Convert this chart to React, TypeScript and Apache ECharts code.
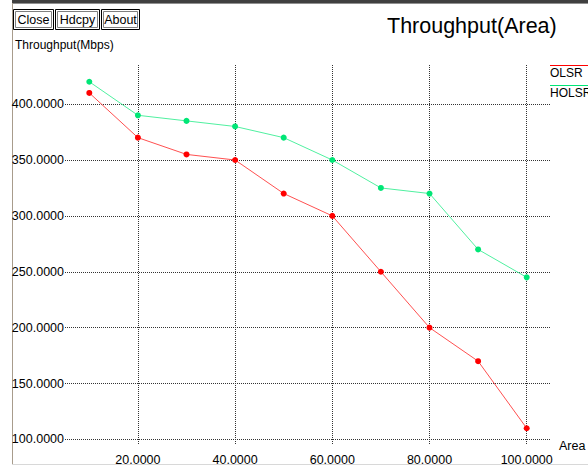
import React, { useEffect, useRef } from "react";
import * as echarts from "echarts";

const areas = [10, 20, 30, 40, 50, 60, 70, 80, 90, 100];
const olsr = [410, 370, 355, 350, 320, 300, 250, 200, 170, 110];
const holsr = [420, 390, 385, 380, 370, 350, 325, 320, 270, 245];
const xTicks = [20, 40, 60, 80, 100];
const yTicks = [100, 150, 200, 250, 300, 350, 400];
const seriesNames = ["OLSR", "HOLSR"];

const FONT = "'Liberation Sans', Arial, sans-serif";

function button(x: number, w: number, label: string) {
  return {
    type: "group",
    children: [
      { type: "rect", shape: { x: x + 0.5, y: 9.5, width: w, height: 20 }, style: { fill: "#fff", stroke: "#000", lineWidth: 1 } },
      { type: "rect", shape: { x: x + 2.5, y: 11.5, width: w - 4, height: 16 }, style: { fill: "#fff", stroke: "#808080", lineWidth: 1 } },
      {
        type: "text",
        x: x + w / 2 + 0.5,
        y: 19.5,
        style: { text: label, font: `12.5px ${FONT}`, fill: "#000", align: "center", verticalAlign: "middle" },
      },
    ],
  };
}

export default function App() {
  const ref = useRef<HTMLDivElement>(null);
  useEffect(() => {
    if (!ref.current) return;
    const chart = echarts.init(ref.current, null, { renderer: "svg" });
    const gridLine = { show: true, lineStyle: { color: "#333", type: [1, 1], width: 1 } };
    chart.setOption({
      animation: false,
      backgroundColor: "#fff",
      textStyle: { fontFamily: FONT },
      grid: { left: 65, right: 37, top: 65, bottom: 22, containLabel: false },
      xAxis: {
        type: "value",
        min: 5,
        max: 105,
        axisLine: { show: false },
        axisTick: { show: false, customValues: xTicks },
        axisLabel: {
          customValues: xTicks,
          formatter: (v: number) => v.toFixed(4),
          color: "#000",
          fontSize: 12.5,
          margin: 8,
          fontFamily: FONT,
        },
        splitLine: gridLine,
      },
      yAxis: {
        type: "value",
        min: 95,
        max: 435,
        axisLine: { show: false },
        axisTick: { show: false, customValues: yTicks },
        axisLabel: {
          customValues: yTicks,
          formatter: (v: number) => v.toFixed(4),
          color: "#000",
          fontSize: 12.5,
          margin: 1,
          fontFamily: FONT,
        },
        splitLine: gridLine,
      },
      series: [
        {
          name: seriesNames[0],
          type: "line",
          data: areas.map((a, i) => [a, olsr[i]]),
          symbol: "circle",
          symbolSize: 6,
          lineStyle: { color: "#ff5050", width: 1 },
          itemStyle: { color: "#ff0000" },
          z: 3,
        },
        {
          name: seriesNames[1],
          type: "line",
          data: areas.map((a, i) => [a, holsr[i]]),
          symbol: "circle",
          symbolSize: 6,
          lineStyle: { color: "#50f0a0", width: 1 },
          itemStyle: { color: "#00e676" },
          z: 4,
        },
      ],
      graphic: [
        { type: "rect", shape: { x: 12, y: 0, width: 576, height: 3 }, style: { fill: "#404040" } },
        { type: "rect", shape: { x: 12, y: 3, width: 576, height: 1 }, style: { fill: "#909090" } },
        { type: "line", shape: { x1: 12.5, y1: 3, x2: 12.5, y2: 464 }, style: { stroke: "#a89c8c", lineWidth: 1 } },
        { type: "line", shape: { x1: 12, y1: 464.5, x2: 588, y2: 464.5 }, style: { stroke: "#d8d8d8", lineWidth: 1 } },
        button(13, 40, "Close"),
        button(55, 44, "Hdcpy"),
        button(101, 38, "About"),
        {
          type: "text",
          x: 15,
          y: 45,
          style: { text: "Throughput(Mbps)", font: `12px ${FONT}`, fill: "#000", verticalAlign: "middle" },
        },
        {
          type: "text",
          x: 387,
          y: 26,
          style: { text: "Throughput(Area)", font: `21.5px ${FONT}`, fill: "#000", verticalAlign: "middle" },
        },
        { type: "line", shape: { x1: 550, y1: 65.5, x2: 588, y2: 65.5 }, style: { stroke: "#ff0000", lineWidth: 1 } },
        {
          type: "text",
          x: 550,
          y: 73,
          style: { text: seriesNames[0], font: `12px ${FONT}`, fill: "#000", verticalAlign: "middle" },
        },
        { type: "line", shape: { x1: 550, y1: 85.5, x2: 588, y2: 85.5 }, style: { stroke: "#00e676", lineWidth: 1 } },
        {
          type: "text",
          x: 550,
          y: 93,
          style: { text: seriesNames[1], font: `12px ${FONT}`, fill: "#000", verticalAlign: "middle" },
        },
        {
          type: "text",
          x: 559,
          y: 446,
          style: { text: "Area", font: `12.5px ${FONT}`, fill: "#000", verticalAlign: "middle" },
        },
      ],
    });
    return () => chart.dispose();
  }, []);
  return <div ref={ref} style={{ position: "fixed", left: 0, top: 0, width: 588, height: 467 }} />;
}
